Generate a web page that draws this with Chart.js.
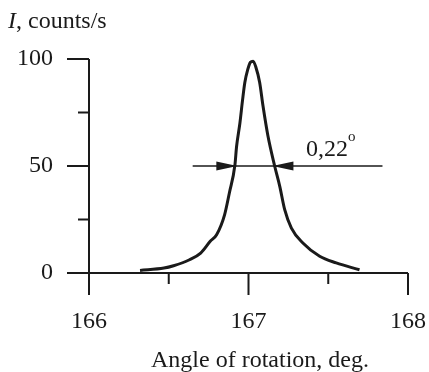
<!DOCTYPE html>
<html>
<head>
<meta charset="utf-8">
<script src="https://cdn.jsdelivr.net/npm/chart.js@4/dist/chart.umd.min.js"></script>
<style>
  html, body { margin: 0; padding: 0; background: #fff; }
  #wrap { position: relative; width: 429px; height: 372px; }
</style>
</head>
<body>
<div id="wrap"><canvas id="peak"></canvas></div>
<script>
// rocking curve: angle (deg) vs intensity (counts/s)
const angle = [166.32, 166.47, 166.53, 166.63, 166.70, 166.76, 166.80, 166.85, 166.88, 166.915,
  166.925, 166.946, 166.963, 166.977, 166.995, 167.012, 167.029, 167.045, 167.07, 167.091,
  167.122, 167.164, 167.196, 167.227, 167.269, 167.341, 167.446, 167.55, 167.696];
const intensity = [1.2, 2.3, 3.4, 6.2, 9.3, 14.8, 17.9, 27.2, 37.4, 50.6,
  59, 70, 81, 89, 95, 98.5, 99, 96.5, 89, 78,
  64, 50, 40.5, 29.6, 21, 14, 7.8, 4.7, 1.5];

const xMajor = [166, 167, 168];
const xMinor = [166.5, 167.5];
const yMajor = [0, 50, 100];
const yMinor = [25, 75];

// half-width marker
const fwhm = 0.22;
const fwhmCenter = 167.04;
const fwhmLevel = 50;
const arrowFrom = 166.65;
const arrowTo = 167.84;

const serif = '"Liberation Serif", "Times New Roman", serif';
const ink = '#1a1a1a';

const axesPlugin = {
  id: 'axesPlugin',
  afterDraw(chart) {
    const ctx = chart.ctx;
    const xs = chart.scales.x, ys = chart.scales.y;
    const x0 = xs.getPixelForValue(166), x1 = xs.getPixelForValue(168);
    const y0 = ys.getPixelForValue(0), y1 = ys.getPixelForValue(100);
    ctx.save();
    ctx.strokeStyle = ink;
    ctx.lineWidth = 2;
    ctx.beginPath();
    // axis lines
    ctx.moveTo(x0, y1); ctx.lineTo(x0, y0);
    ctx.moveTo(x0 - 22, y0); ctx.lineTo(x1, y0);
    yMajor.forEach(v => { const y = ys.getPixelForValue(v); ctx.moveTo(x0 - 22, y); ctx.lineTo(x0, y); });
    yMinor.forEach(v => { const y = ys.getPixelForValue(v); ctx.moveTo(x0 - 11, y); ctx.lineTo(x0, y); });
    xMajor.forEach(v => { const x = xs.getPixelForValue(v); ctx.moveTo(x, y0); ctx.lineTo(x, y0 + 22); });
    xMinor.forEach(v => { const x = xs.getPixelForValue(v); ctx.moveTo(x, y0); ctx.lineTo(x, y0 + 11); });
    ctx.stroke();

    // width arrows
    const ya = ys.getPixelForValue(fwhmLevel);
    const tipL = xs.getPixelForValue(fwhmCenter - fwhm / 2);
    const tipR = xs.getPixelForValue(fwhmCenter + fwhm / 2);
    ctx.lineWidth = 1.5;
    ctx.beginPath();
    ctx.moveTo(xs.getPixelForValue(arrowFrom), ya);
    ctx.lineTo(xs.getPixelForValue(arrowTo), ya);
    ctx.stroke();
    ctx.fillStyle = ink;
    ctx.beginPath();
    ctx.moveTo(tipL, ya); ctx.lineTo(tipL - 21, ya - 4.5); ctx.lineTo(tipL - 21, ya + 4.5); ctx.closePath();
    ctx.moveTo(tipR, ya); ctx.lineTo(tipR + 21, ya - 4.5); ctx.lineTo(tipR + 21, ya + 4.5); ctx.closePath();
    ctx.fill();

    // texts
    ctx.textBaseline = 'alphabetic';
    ctx.textAlign = 'left';
    ctx.font = '24px ' + serif;
    ctx.fillText('0,22', 306, 156);
    ctx.font = '15px ' + serif;
    ctx.fillText('o', 348, 141);

    ctx.font = 'italic 24px ' + serif;
    ctx.fillText('I', 8, 28);
    const wI = ctx.measureText('I').width;
    ctx.font = '24px ' + serif;
    ctx.fillText(', counts/s', 8 + wI, 28);

    ctx.textAlign = 'center';
    ctx.fillText('Angle of rotation, deg.', 260, 367);
    ctx.restore();
  }
};

new Chart(document.getElementById('peak'), {
  type: 'scatter',
  data: {
    datasets: [{
      data: angle.map((a, i) => ({ x: a, y: intensity[i] })),
      showLine: true,
      borderColor: ink,
      borderWidth: 3,
      pointRadius: 0,
      cubicInterpolationMode: 'monotone',
      fill: false
    }]
  },
  options: {
    responsive: true,
    maintainAspectRatio: false,
    animation: false,
    layout: { padding: { top: 59, right: 21, left: 0, bottom: 0 } },
    plugins: { legend: { display: false }, tooltip: { enabled: false } },
    scales: {
      x: {
        type: 'linear', min: 166, max: 168,
        border: { display: false },
        grid: { display: false, drawTicks: false },
        afterFit: s => { s.height = 99; s.paddingLeft = 0; s.paddingRight = 0; },
        ticks: {
          stepSize: 0.5, autoSkip: false, maxRotation: 0, padding: 34,
          color: ink, font: { family: serif, size: 24 },
          callback: v => Number.isInteger(v) ? String(v) : ''
        }
      },
      y: {
        type: 'linear', min: 0, max: 100,
        border: { display: false },
        grid: { display: false, drawTicks: false },
        afterFit: s => { s.width = 89; s.paddingTop = 0; s.paddingBottom = 0; },
        ticks: {
          stepSize: 25, autoSkip: false, padding: 36,
          color: ink, font: { family: serif, size: 24 },
          callback: v => v % 50 === 0 ? String(v) : ''
        }
      }
    }
  },
  plugins: [axesPlugin]
});
</script>
</body>
</html>
